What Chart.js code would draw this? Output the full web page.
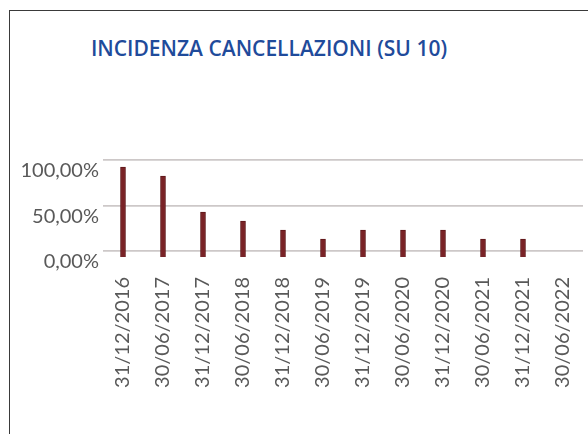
<!DOCTYPE html>
<html>
<head>
<meta charset="utf-8">
<script src="https://cdn.jsdelivr.net/npm/chart.js@4/dist/chart.umd.min.js"></script>
<style>
  html, body { margin: 0; padding: 0; background: #fff; }
  #wrap { position: relative; width: 588px; height: 434px; overflow: hidden; }
  #frame { position: absolute; left: 9px; top: 10px; width: 600px; height: 440px;
           border-left: 1.5px solid #3a3a3a; border-top: 1.5px solid #3a3a3a; }
  #title { position: absolute; left: 69px; width: 400px; top: 33px; text-align: center;
           font-family: 'Open Sans', sans-serif; font-weight: 600; font-size: 21px;
           line-height: 30px; color: #1f4b9b; white-space: nowrap; }
  canvas { position: absolute; left: 0; top: 0; }
</style>
</head>
<body>
<div id="wrap">
  <div id="frame"></div>
  <div id="title"></div>
  <canvas id="c" width="588" height="434"></canvas>
</div>
<script>
const chartTitle = 'INCIDENZA CANCELLAZIONI (SU 10)';
const categories = ['31/12/2016','30/06/2017','31/12/2017','30/06/2018','31/12/2018','30/06/2019',
                    '31/12/2019','30/06/2020','31/12/2020','30/06/2021','31/12/2021','30/06/2022'];
const values = [100, 90, 50, 40, 30, 20, 30, 30, 30, 20, 20, 0];
const yTickValues = [0, 50, 100];

document.getElementById('title').textContent = chartTitle;
const fmt = v => v.toFixed(2).replace('.', ',') + '%';

new Chart(document.getElementById('c'), {
  type: 'bar',
  data: {
    labels: categories,
    datasets: [{
      data: values,
      yAxisID: 'y',
      backgroundColor: '#7a2226',
      borderColor: '#5e171a',
      borderWidth: 1,
      barThickness: 5
    }]
  },
  options: {
    responsive: false,
    animation: false,
    layout: { padding: { top: 160, left: 19, right: 5, bottom: 0 } },
    plugins: {
      legend: { display: false },
      tooltip: { enabled: false },
      title: { display: false }
    },
    scales: {
      x: {
        grid: { display: false, drawTicks: false },
        border: { display: false },
        afterFit: s => { s.height = 177; s.paddingLeft = 0; s.paddingRight = 0; },
        ticks: {
          autoSkip: false, minRotation: 90, maxRotation: 90, padding: 20,
          color: '#595959', font: { family: 'Lato', size: 20 }
        }
      },
      y: {
        display: false,
        min: 0,
        max: 107.8
      },
      y2: {
        position: 'left',
        min: -6.6,
        max: 100,
        afterBuildTicks: s => { s.ticks = yTickValues.map(v => ({ value: v })); },
        afterFit: s => { s.width = 84; s.paddingTop = 0; s.paddingBottom = 0; },
        grid: { color: '#cdc8c8', lineWidth: 1.8, drawTicks: false },
        border: { display: false },
        ticks: {
          padding: 4, labelOffset: 11,
          color: '#595959', font: { family: 'Lato', size: 20 },
          callback: v => fmt(v)
        }
      }
    }
  }
});
</script>
</body>
</html>
